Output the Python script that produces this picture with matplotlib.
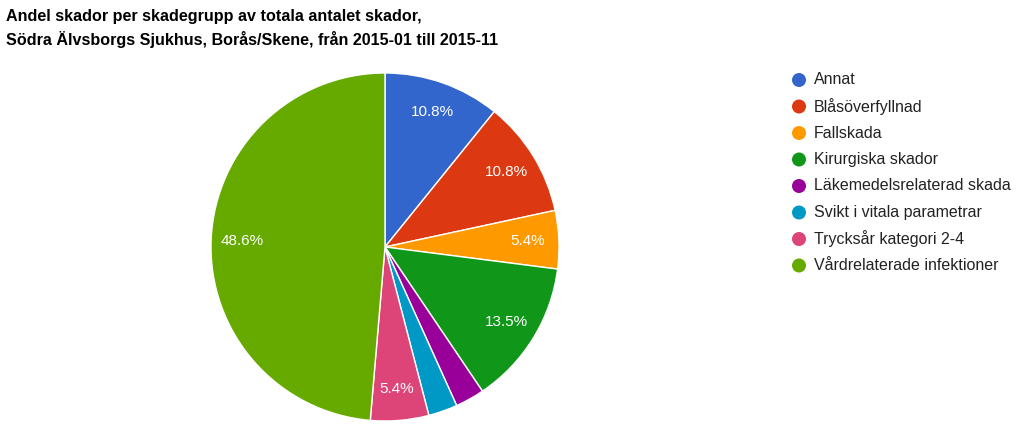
import matplotlib
matplotlib.use("Agg")
import matplotlib.pyplot as plt
from matplotlib.patches import Circle

categories = ["Annat", "Blåsöverfyllnad", "Fallskada", "Kirurgiska skador",
              "Läkemedelsrelaterad skada", "Svikt i vitala parametrar",
              "Trycksår kategori 2-4", "Vårdrelaterade infektioner"]
values = [4, 4, 2, 5, 1, 1, 2, 18]
colors = ["#3366cc", "#dc3912", "#ff9900", "#109618", "#990099", "#0099c6", "#dd4477", "#66aa00"]
title_lines = ["Andel skador per skadegrupp av totala antalet skador,",
               "Södra Älvsborgs Sjukhus, Borås/Skene, från 2015-01 till 2015-11"]

plt.rcParams['font.family'] = ['Liberation Sans', 'DejaVu Sans']

W, H = 1024, 434
fig = plt.figure(figsize=(W / 100, H / 100), dpi=100)
ax = fig.add_axes([0, 0, 1, 1])
ax.set_xlim(0, W)
ax.set_ylim(0, H)
ax.set_aspect('equal')
ax.axis('off')

def fmt(p):
    return f"{p:.1f}%" if p > 4 else ""

wedges, texts, autotexts = ax.pie(values, colors=colors, startangle=90, counterclock=False,
                                  center=(385, H - 247), radius=174,
                                  autopct=fmt, pctdistance=0.82,
                                  wedgeprops=dict(edgecolor='white', linewidth=1),
                                  textprops=dict(color='white', fontsize=11))
ax.set_xlim(0, W)
ax.set_ylim(0, H)

for i, line in enumerate(title_lines):
    fig.text(6 / W, 1 - (16 + 24 * i) / H, line, fontsize=11.6, fontweight='bold',
             color='black', va='center', ha='left')

y0, dy = 80, 26.5
for i, (lab, col) in enumerate(zip(categories, colors)):
    y = H - (y0 + dy * i)
    ax.add_patch(Circle((799, y), 7, facecolor=col, edgecolor='none'))
    ax.text(814, y, lab, fontsize=11.5, color='#222222', va='center', ha='left')

fig.savefig("out.png", dpi=100)
